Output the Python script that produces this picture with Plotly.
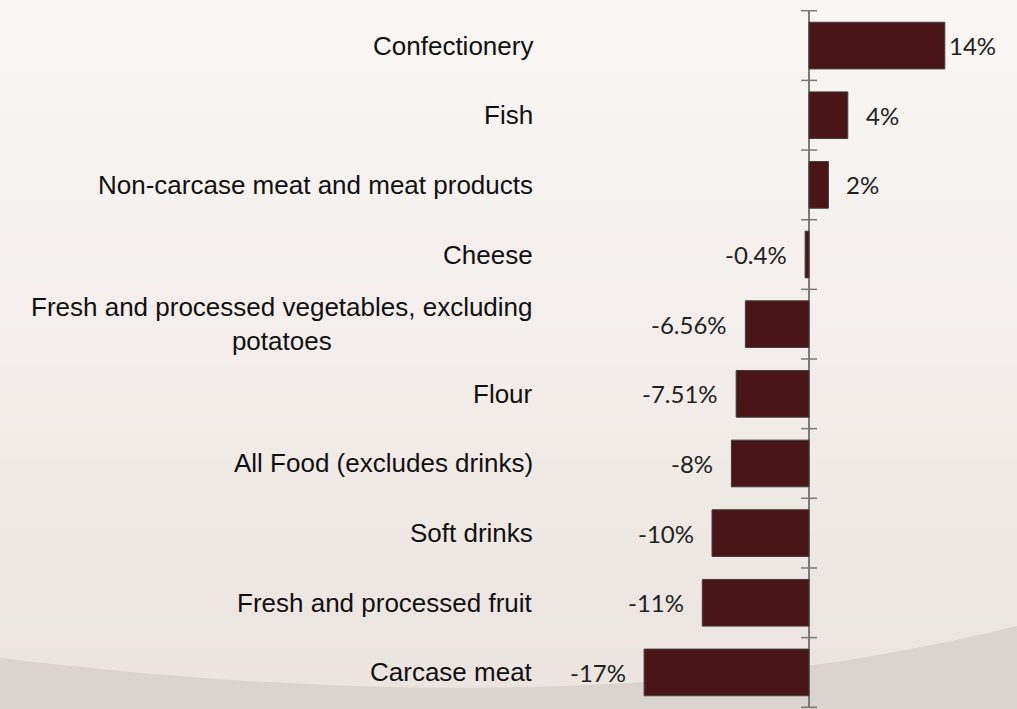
import plotly.graph_objects as go

# Change in purchased quantities by food group
categories = [
    "Confectionery",
    "Fish",
    "Non-carcase meat and meat products",
    "Cheese",
    "Fresh and processed vegetables, excluding<br>potatoes",
    "Flour",
    "All Food (excludes drinks)",
    "Soft drinks",
    "Fresh and processed fruit",
    "Carcase meat",
]
changes = [14, 4, 2, -0.4, -6.56, -7.51, -8, -10, -11, -17]

W, H = 1017, 709
BAR = "#4a1517"
AXIS = "#7a7a7a"


def px(x):
    return x / W


def py(y):
    return 1 - y / H


def lerp(c0, c1, t):
    return tuple(round(a + (b - a) * t) for a, b in zip(c0, c1))


fig = go.Figure()
fig.add_trace(go.Bar(
    x=changes, y=categories, orientation="h", width=0.67,
    marker=dict(color=BAR, line=dict(color="#3e3e3e", width=1)),
    hoverinfo="skip",
))

shapes = []

# soft vertical background gradient
stops = [(0, (249, 246, 244)), (350, (243, 238, 235)), (709, (234, 227, 223))]
n = 60
for i in range(n):
    y0, y1 = H * i / n, H * (i + 1) / n
    ym = (y0 + y1) / 2
    for (a, ca), (b, cb) in zip(stops[:-1], stops[1:]):
        if a <= ym <= b:
            c = lerp(ca, cb, (ym - a) / (b - a))
            break
    shapes.append(dict(type="rect", xref="paper", yref="paper",
                       x0=0, x1=1, y0=py(y1), y1=py(y0) + 0.001,
                       fillcolor="rgb(%d,%d,%d)" % c, line=dict(width=0),
                       layer="below"))

# darker swoosh along the bottom edge
path = "M %f,%f C %f,%f %f,%f %f,%f L %f,%f L %f,%f Z" % (
    px(0), py(658), px(350), py(700), px(700), py(705), px(1017), py(626),
    px(1017), py(709), px(0), py(709))
shapes.append(dict(type="path", xref="paper", yref="paper", path=path,
                   fillcolor="rgb(219,211,207)", line=dict(width=0),
                   layer="below"))

# cross ticks at the category boundaries on the zero axis
for i in range(len(categories) + 1):
    shapes.append(dict(type="line", xref="x", yref="y", xsizemode="pixel",
                       xanchor=0, x0=-8, x1=8, y0=i - 0.5, y1=i - 0.5,
                       line=dict(color=AXIS, width=1.5)))

annotations = []
# category names to the left of the plot
for cat in categories:
    annotations.append(dict(
        xref="paper", yref="y", x=px(535), y=cat, xanchor="right",
        yanchor="middle", text=cat, showarrow=False, align="center",
        font=dict(family="Liberation Sans, Arial", size=26, color="#111111"),
    ))

# value labels at the bar ends
top = max(changes)
for cat, v in zip(categories, changes):
    gap = 2 if v == top else 16
    annotations.append(dict(
        xref="x", yref="y", x=v, y=cat,
        xanchor="left" if v >= 0 else "right", yanchor="middle",
        xshift=gap if v >= 0 else -gap,
        text=f"{v:g}%", showarrow=False,
        font=dict(family="Lato, Open Sans", size=24, color="#222222"),
    ))

scale = 9.7  # pixels per percentage point
x_left, x_zero, x_right = 543, 809, 1010
fig.update_layout(
    width=W, height=H,
    margin=dict(l=0, r=0, t=0, b=0),
    paper_bgcolor="rgba(0,0,0,0)", plot_bgcolor="rgba(0,0,0,0)",
    showlegend=False,
    shapes=shapes, annotations=annotations,
    xaxis=dict(domain=[px(x_left), px(x_right)],
               range=[-(x_zero - x_left) / scale, (x_right - x_zero) / scale],
               showgrid=False, showticklabels=False, ticks="",
               zeroline=True, zerolinecolor=AXIS, zerolinewidth=1.5),
    yaxis=dict(domain=[py(708), py(10)], type="category",
               categoryorder="array", categoryarray=categories,
               autorange="reversed", showgrid=False, showticklabels=False,
               ticks="", zeroline=False, showline=False),
)

fig.write_html("out.html")
